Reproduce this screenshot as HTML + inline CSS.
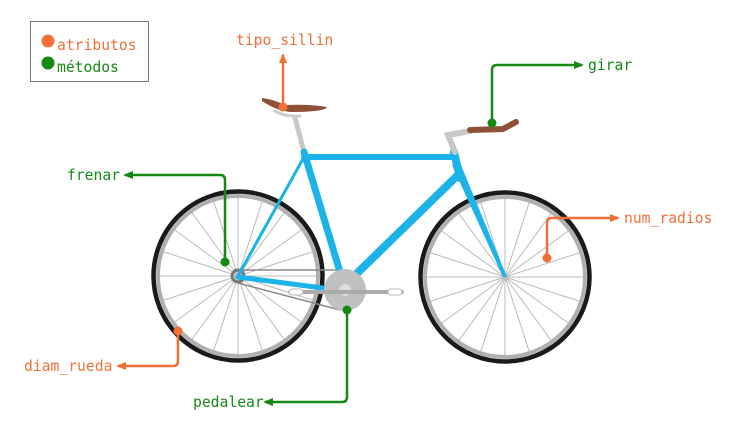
<!DOCTYPE html>
<html><head><meta charset="utf-8"><style>
html,body{margin:0;padding:0;background:#fff;}
svg{display:block;}
text{font-family:"DejaVu Sans Mono","Liberation Mono",monospace;font-size:14.7px;}
</style></head><body>
<svg id="c" width="737" height="435" viewBox="0 0 737 435">
<defs>
<marker id="ao" markerWidth="10" markerHeight="8" refX="8" refY="4" orient="auto" markerUnits="userSpaceOnUse"><path d="M0,0L10,4L0,8z" fill="#f07038"/></marker>
<marker id="ag" markerWidth="10" markerHeight="8" refX="8" refY="4" orient="auto" markerUnits="userSpaceOnUse"><path d="M0,0L10,4L0,8z" fill="#148a14"/></marker>
</defs>
<g>
<rect x="30.5" y="21.5" width="118" height="60" fill="#fff" stroke="#777" stroke-width="1"/>
<circle cx="48" cy="41" r="6.5" fill="#f07038"/>
<text x="57" y="50" fill="#f07038">atributos</text>
<circle cx="48" cy="63" r="6.5" fill="#148a14"/>
<text x="57" y="72" fill="#148a14">métodos</text>
</g>
<g id="wheels"></g>
<g stroke-linecap="round">
<line x1="238" y1="276" x2="345" y2="290" stroke="#888" stroke-width="1.5"/>
<line x1="238" y1="270" x2="336" y2="270" stroke="#888" stroke-width="1.5"/>
<line x1="238" y1="283" x2="340" y2="310" stroke="#888" stroke-width="1.5"/>
<circle cx="238" cy="276" r="6" fill="none" stroke="#777" stroke-width="3"/>
<line x1="295" y1="118" x2="304" y2="152" stroke="#c8c8c8" stroke-width="5"/>
<path d="M262,98 Q272,99 285,105 Q310,104 327,107 Q325,112 290,112 Q275,110 262,101 Z" fill="#8e5036"/>
<path d="M275,111 Q285,117 300,116" stroke="#ccc" stroke-width="3" fill="none"/>
<line x1="304" y1="152" x2="343" y2="282" stroke="#1bb3e8" stroke-width="7"/>
<line x1="304" y1="157" x2="455" y2="157" stroke="#1bb3e8" stroke-width="6"/>
<line x1="304" y1="157" x2="238" y2="276" stroke="#1bb3e8" stroke-width="3"/>
<line x1="238" y1="277" x2="338" y2="290" stroke="#1bb3e8" stroke-width="5"/>
<line x1="458" y1="175" x2="345" y2="285" stroke="#1bb3e8" stroke-width="8"/>
<line x1="454" y1="152" x2="460" y2="178" stroke="#1bb3e8" stroke-width="8"/>
<polygon points="452,165 461,165 507,277 503,277" fill="#1bb3e8"/>
<path d="M455,152 L448,135 L470,131" stroke="#c8c8c8" stroke-width="6" fill="none"/>
<path d="M470,130 L503,129 L516,122" stroke="#8e5036" stroke-width="6" fill="none"/>
<circle cx="345" cy="290" r="21" fill="#c0c0c0"/>
<circle cx="345" cy="290" r="6" fill="#ddd"/>
<line x1="290" y1="292" x2="402" y2="292" stroke="#aaa" stroke-width="4"/>
<rect x="289" y="289" width="14" height="6" rx="3" fill="#fff" stroke="#bbb"/>
<rect x="388" y="289" width="14" height="6" rx="3" fill="#fff" stroke="#bbb"/>
</g>
<g fill="none" stroke-width="2.5">
<g><path d="M283,107 V55" stroke="#f07038" marker-end="url(#ao)"/><circle cx="283" cy="107" r="4.5" fill="#f07038" stroke="none"/><text x="236" y="45" fill="#f07038" stroke="none">tipo_sillin</text></g>
<g><path d="M492,123 V70 Q492,65 497,65 H582" stroke="#148a14" marker-end="url(#ag)"/><circle cx="492" cy="123" r="4.5" fill="#148a14" stroke="none"/><text x="588" y="70" fill="#148a14" stroke="none">girar</text></g>
<g><path d="M225,262 V180 Q225,175 220,175 H125" stroke="#148a14" marker-end="url(#ag)"/><circle cx="225" cy="262" r="4.5" fill="#148a14" stroke="none"/><text x="67" y="180" fill="#148a14" stroke="none">frenar</text></g>
<g><path d="M547,258 V223 Q547,218 552,218 H618" stroke="#f07038" marker-end="url(#ao)"/><circle cx="547" cy="258" r="4.5" fill="#f07038" stroke="none"/><text x="624" y="223" fill="#f07038" stroke="none">num_radios</text></g>
<g><path d="M178,331 V361 Q178,366 173,366 H118" stroke="#f07038" marker-end="url(#ao)"/><circle cx="178" cy="331" r="4.5" fill="#f07038" stroke="none"/><text x="24" y="371" fill="#f07038" stroke="none">diam_rueda</text></g>
<g><path d="M347,310 V397 Q347,402 342,402 H265" stroke="#148a14" marker-end="url(#ag)"/><circle cx="347" cy="310" r="4.5" fill="#148a14" stroke="none"/><text x="193" y="407" fill="#148a14" stroke="none">pedalear</text></g>
</g>
</svg>
<script>
const wheelCenters=[238,505];
const wheelY=[276,277];
const spokeCount=[20,20];
const NS="http://www.w3.org/2000/svg";
const wg=document.getElementById('wheels');
wheelCenters.forEach((cx,i)=>{
  const cy=wheelY[i];
  const g=document.createElementNS(NS,'g');
  
  
  const n=spokeCount[i];
  for(let k=0;k<n;k++){
    const a=k*2*Math.PI/n+Math.PI/2;
    const l=document.createElementNS(NS,'line');
    
    
    l.setAttribute('x1',cx);l.setAttribute('y1',cy);
    l.setAttribute('x2',cx+78*Math.cos(a));l.setAttribute('y2',cy+78*Math.sin(a));
    l.setAttribute('stroke','#bbb');l.setAttribute('stroke-width','1');
    g.appendChild(l);
  }
  const rim=document.createElementNS(NS,'circle');
  
  
  rim.setAttribute('cx',cx);rim.setAttribute('cy',cy);rim.setAttribute('r','80');
  rim.setAttribute('fill','none');rim.setAttribute('stroke','#b0b0b0');rim.setAttribute('stroke-width','4');
  g.appendChild(rim);
  const tire=document.createElementNS(NS,'circle');
  
  
  tire.setAttribute('cx',cx);tire.setAttribute('cy',cy);tire.setAttribute('r','84.5');
  tire.setAttribute('fill','none');tire.setAttribute('stroke','#1a1a1a');tire.setAttribute('stroke-width','4.5');
  g.appendChild(tire);
  wg.appendChild(g);
});
</script>
</body></html>
